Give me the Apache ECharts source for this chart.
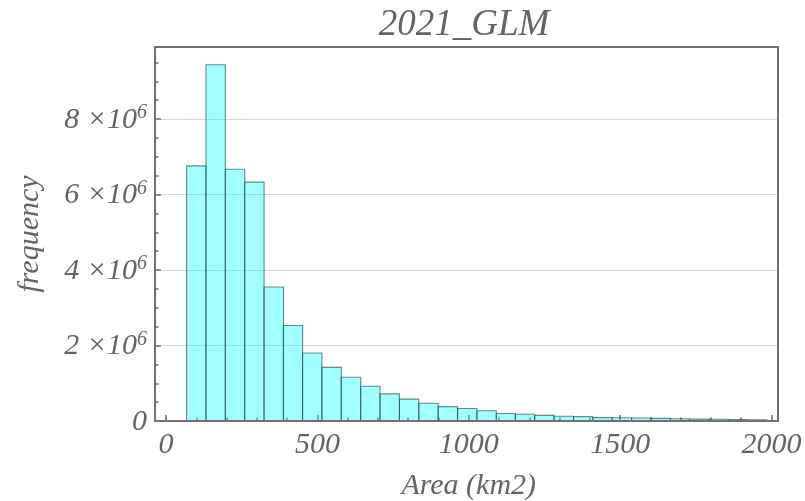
<!DOCTYPE html>
<html>
<head>
<meta charset="utf-8">
<script src="https://cdn.jsdelivr.net/npm/echarts@6/dist/echarts.min.js"></script>
<style>
  html, body { margin: 0; padding: 0; background: #fff; }
  #chart { width: 805px; height: 501px; }
</style>
</head>
<body>
<div id="chart"></div>
<script>
// bin edges (km2) and counts
const binEdges = [68, 132, 196, 260, 324, 388, 451, 515, 579, 643, 707, 771, 835, 899, 963,
  1027, 1091, 1154, 1218, 1282, 1346, 1410, 1474, 1538, 1602, 1666, 1729, 1793, 1857, 1921, 1985];
const counts = [6.76e6, 9.44e6, 6.67e6, 6.33e6, 3.55e6, 2.53e6, 1.80e6, 1.42e6, 1.16e6, 0.92e6,
  0.72e6, 0.58e6, 0.47e6, 0.38e6, 0.33e6, 0.27e6, 0.20e6, 0.18e6, 0.15e6, 0.125e6,
  0.115e6, 0.09e6, 0.085e6, 0.08e6, 0.07e6, 0.06e6, 0.05e6, 0.045e6, 0.04e6, 0.035e6];
const xTicks = [0, 500, 1000, 1500, 2000];
const yTicks = [0, 2e6, 4e6, 6e6, 8e6];

const textColor = '#646464';
const serif = '"Liberation Serif", "DejaVu Serif", serif';

const bins = counts.map((c, i) => [binEdges[i], binEdges[i + 1], c]);

const chart = echarts.init(document.getElementById('chart'));
chart.setOption({
  animation: false,
  title: {
    text: '2021_GLM',
    left: 459,
    top: 2,
    textAlign: 'center',
    textStyle: { fontFamily: serif, fontStyle: 'italic', fontWeight: 'normal', fontSize: 37, color: textColor }
  },
  grid: [
    // frame
    { left: 155, right: 27, top: 47, bottom: 80, containLabel: false, outerBoundsMode: 'none',
      show: true, borderColor: '#717171', borderWidth: 2, backgroundColor: 'transparent', z: 3 },
    // data area, 0..2000 on x
    { left: 166, right: 33.5, top: 47, bottom: 80, containLabel: false, outerBoundsMode: 'none' }
  ],
  xAxis: [
    { gridIndex: 0, type: 'value', min: -38, max: 2027, show: false },
    {
      gridIndex: 1, type: 'value', min: 0, max: 2000, interval: 500,
      name: 'Area (km2)', nameLocation: 'middle', nameGap: 50,
      nameTextStyle: { fontFamily: serif, fontStyle: 'italic', fontSize: 30, color: textColor },
      axisLine: { show: false },
      axisTick: { show: true, inside: true, length: 6, lineStyle: { color: '#6a6a6a', width: 1.5 } },
      minorTick: { show: true, splitNumber: 5, length: 3.5, lineStyle: { color: '#6a6a6a', width: 1.5 } },
      splitLine: { show: false },
      axisLabel: {
        margin: 9,
        fontFamily: serif, fontStyle: 'italic', fontSize: 30, color: textColor,
        formatter: v => (xTicks.indexOf(v) >= 0 ? String(v) : '')
      }
    }
  ],
  yAxis: [
    {
      gridIndex: 0, type: 'value', min: 0, max: 9.91e6, interval: 2e6,
      name: 'frequency', nameLocation: 'middle', nameGap: 110, nameRotate: 90,
      nameTextStyle: { fontFamily: serif, fontStyle: 'italic', fontSize: 30, color: textColor },
      axisLine: { show: false, onZero: false },
      axisTick: { show: true, inside: true, length: 6, lineStyle: { color: '#6a6a6a', width: 1.5 } },
      minorTick: { show: true, splitNumber: 4, length: 3.5, lineStyle: { color: '#6a6a6a', width: 1.5 } },
      splitLine: { show: true, lineStyle: { color: '#d6d6d6', width: 1 } },
      axisLabel: {
        margin: 8,
        fontFamily: serif, fontStyle: 'italic', fontSize: 30, color: textColor,
        formatter: function (v) {
          if (v === 0) return '{b|0}';
          if (yTicks.indexOf(v) < 0) return '';
          return '{b|' + (v / 1e6) + ' ×10}{s|6}';
        },
        rich: {
          b: { fontFamily: serif, fontStyle: 'italic', fontSize: 30, color: textColor, lineHeight: 32, verticalAlign: 'bottom' },
          s: { fontFamily: serif, fontStyle: 'italic', fontSize: 20, color: textColor, lineHeight: 32, verticalAlign: 'top' }
        }
      }
    },
    { gridIndex: 1, type: 'value', min: 0, max: 9.91e6, show: false }
  ],
  series: [{
    type: 'custom',
    xAxisIndex: 1,
    yAxisIndex: 1,
    data: bins,
    z: 2,
    renderItem: function (params, api) {
      const p0 = api.coord([api.value(0), api.value(2)]);
      const p1 = api.coord([api.value(1), 0]);
      return {
        type: 'rect',
        shape: { x: p0[0], y: p0[1], width: p1[0] - p0[0], height: p1[1] - p0[1] },
        style: { fill: 'rgba(0,255,255,0.37)', stroke: 'rgba(30,65,65,0.62)', lineWidth: 1.1 }
      };
    }
  }]
});
</script>
</body>
</html>
